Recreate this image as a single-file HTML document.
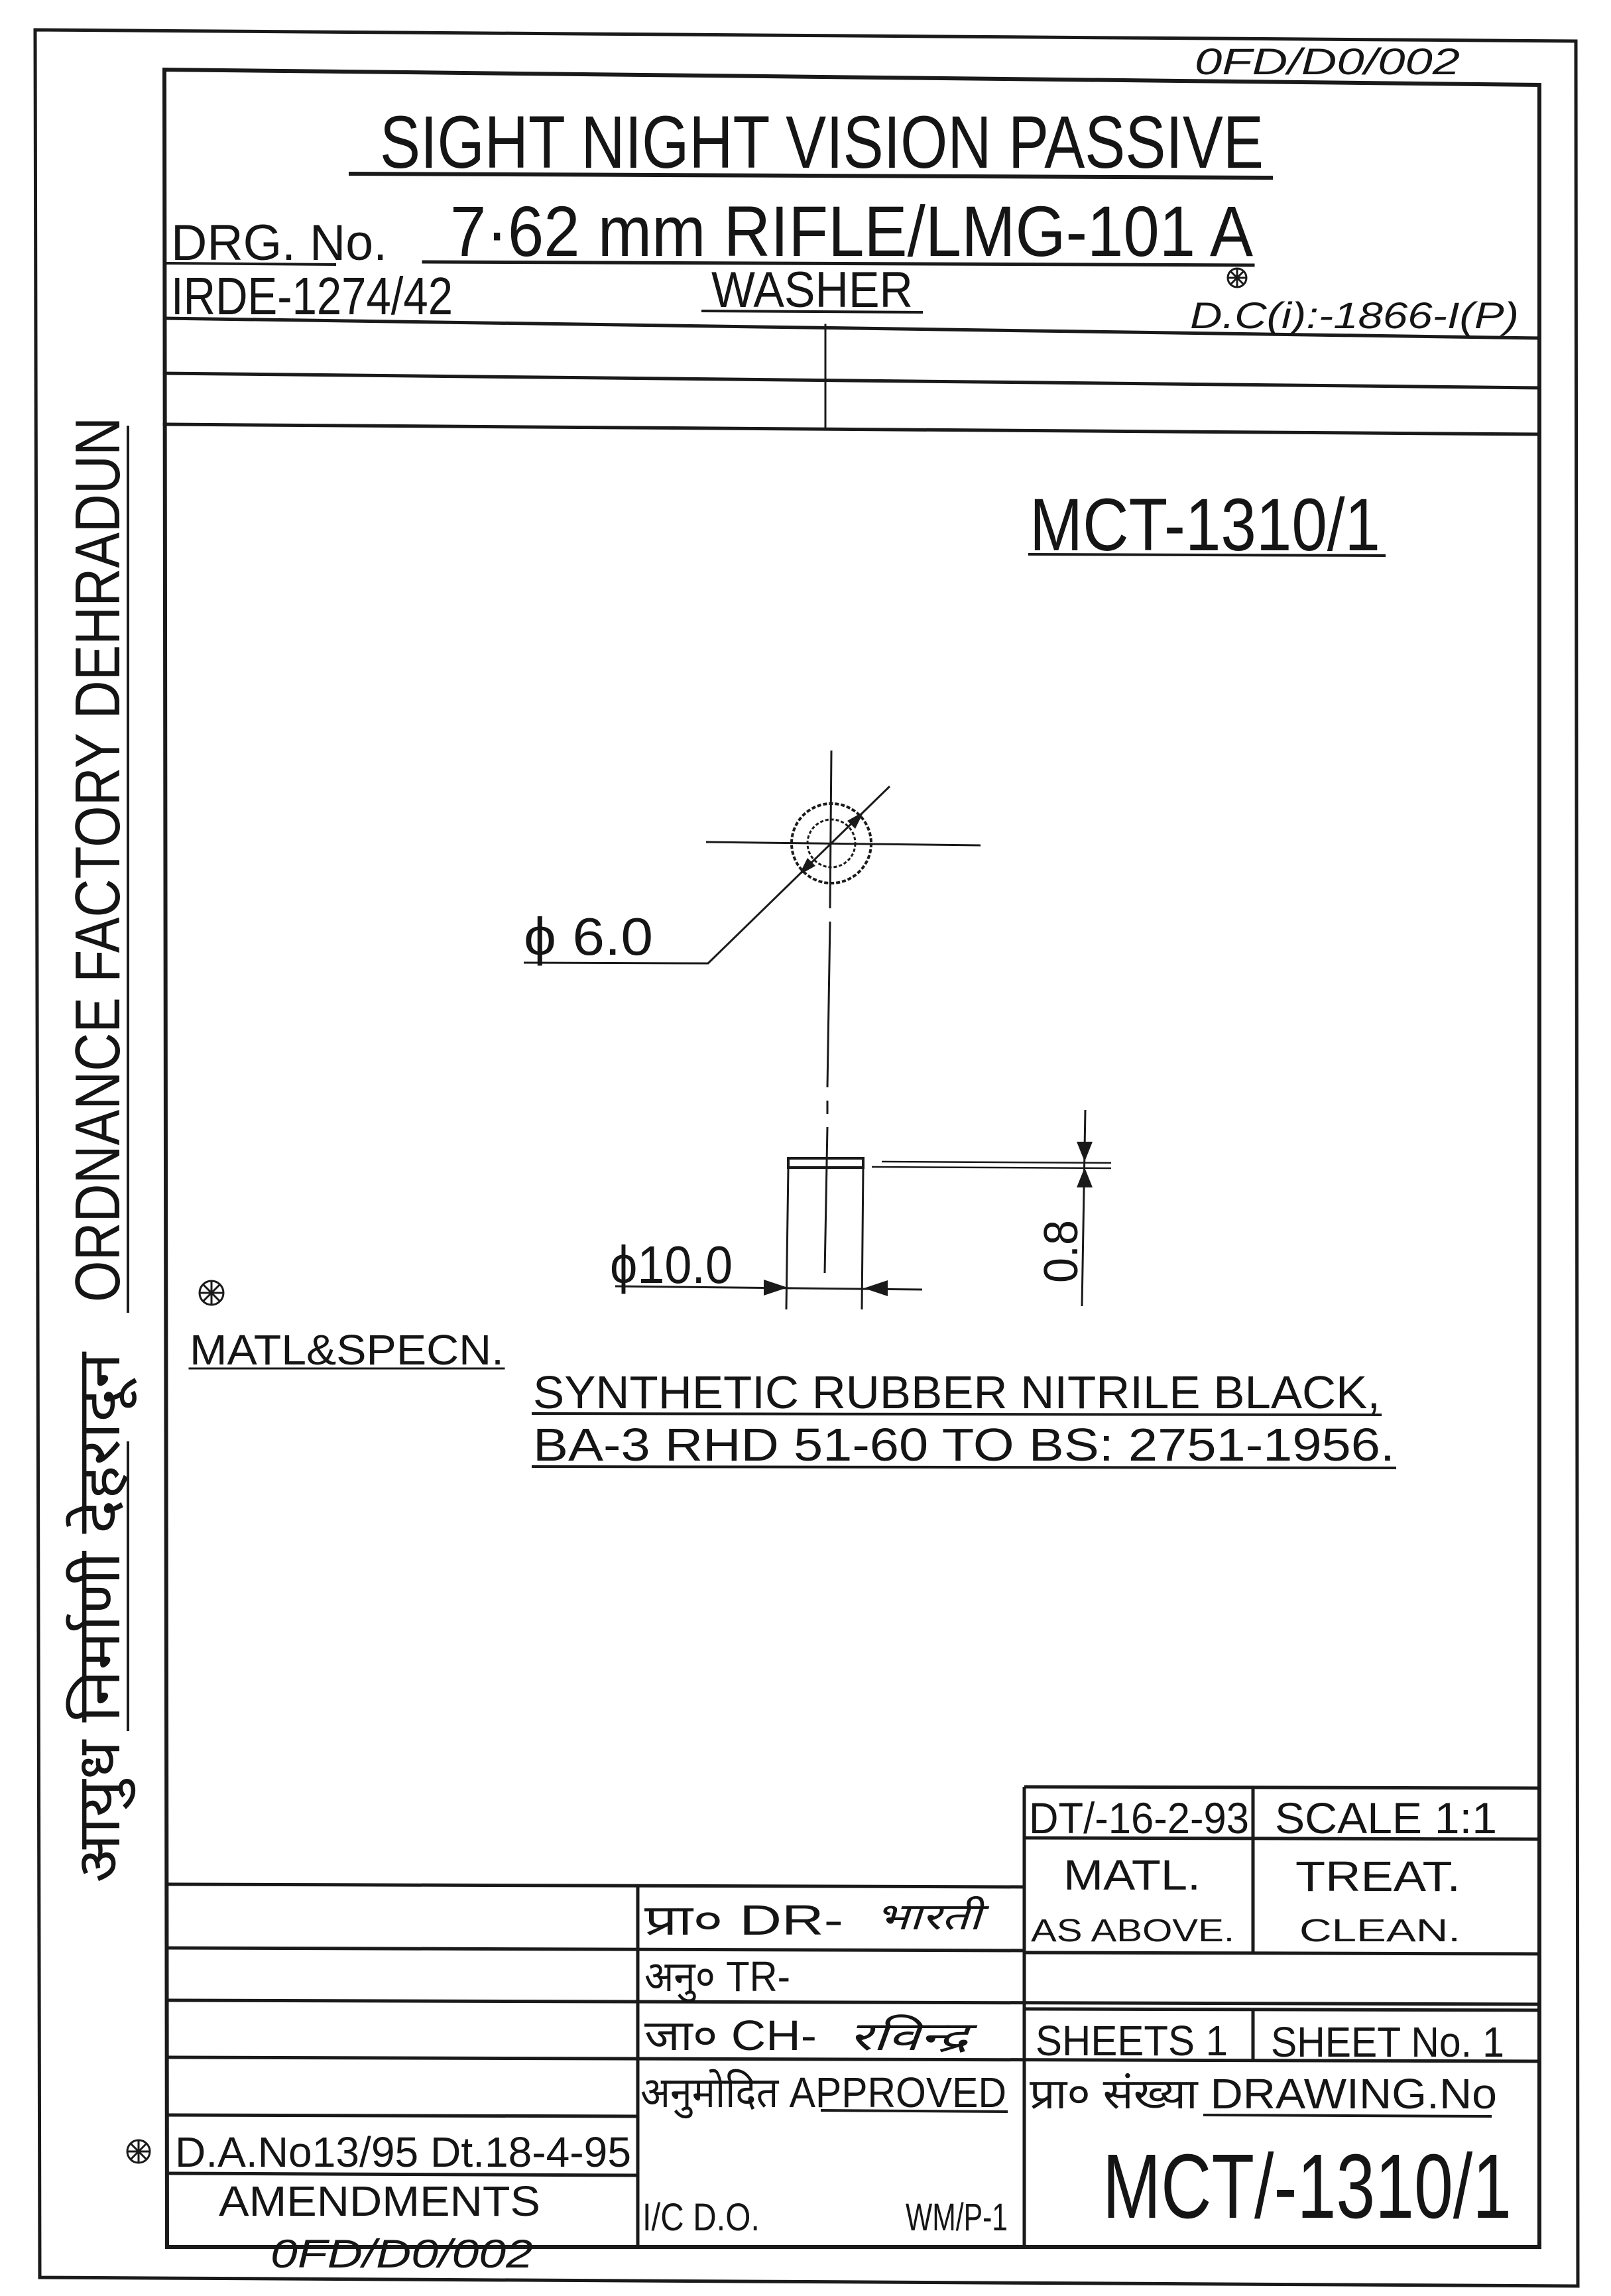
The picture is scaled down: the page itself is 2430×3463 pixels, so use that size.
<!DOCTYPE html>
<html><head><meta charset="utf-8"><style>
html,body{margin:0;padding:0;background:#fff;}
svg{display:block;}
text{font-family:"Liberation Sans","DejaVu Sans",sans-serif;fill:#151515;}
</style></head><body>
<svg width="2430" height="3463" viewBox="0 0 2430 3463" xmlns="http://www.w3.org/2000/svg">
<rect width="2430" height="3463" fill="#fff"/>
<g stroke="#1a1a1a" fill="none" stroke-linecap="square">
<path d="M53 45 L2377 62 L2380 3448 L60 3435 Z" stroke-width="5"/>
<path d="M248 105 L2322 128 L2322 3389 L252 3389 Z" stroke-width="6"/>
<line x1="248" y1="480" x2="2322" y2="510" stroke-width="5"/>
<line x1="248" y1="563" x2="2322" y2="585" stroke-width="5"/>
<line x1="248" y1="640" x2="2322" y2="655" stroke-width="5"/>
<line x1="1245" y1="490" x2="1245" y2="648" stroke-width="3"/>
<line x1="529" y1="262" x2="1917" y2="268" stroke-width="6"/>
<line x1="639" y1="395" x2="1890" y2="400" stroke-width="5"/>
<line x1="250" y1="397" x2="505" y2="399" stroke-width="4"/>
<line x1="1060" y1="469" x2="1390" y2="471" stroke-width="4"/>
<line x1="1553" y1="836" x2="2088" y2="838" stroke-width="4"/>
<line x1="286" y1="2064" x2="760" y2="2064" stroke-width="3"/>
<line x1="804" y1="2132" x2="2082" y2="2134" stroke-width="4"/>
<line x1="804" y1="2212" x2="2104" y2="2214" stroke-width="4"/>
<line x1="193" y1="644" x2="193" y2="1978" stroke-width="4"/>
<line x1="193" y1="2176" x2="193" y2="2609" stroke-width="4"/>
</g>
<g stroke="#1a1a1a" fill="none">
<line x1="1254" y1="1132" x2="1252" y2="1370" stroke-width="3"/>
<line x1="1252" y1="1390" x2="1248" y2="1640" stroke-width="3"/>
<line x1="1248" y1="1660" x2="1248" y2="1680" stroke-width="3"/>
<line x1="1248" y1="1700" x2="1244" y2="1920" stroke-width="3"/>
<line x1="1065" y1="1270" x2="1479" y2="1275" stroke-width="3"/>
<circle cx="1254" cy="1272" r="60" stroke-width="4" stroke-dasharray="6 3"/>
<circle cx="1254" cy="1272" r="36" stroke-width="3" stroke-dasharray="5 3"/>
<polyline points="790,1452 1068,1453 1342,1186" stroke-width="3"/>
<rect x="1189" y="1747" width="113" height="14" stroke-width="4"/>
<line x1="1189" y1="1761" x2="1186" y2="1975" stroke-width="3"/>
<line x1="1302" y1="1761" x2="1300" y2="1975" stroke-width="3"/>
<line x1="1330" y1="1752" x2="1676" y2="1754" stroke-width="2.5"/>
<line x1="1315" y1="1760" x2="1676" y2="1762" stroke-width="2.5"/>
<line x1="1637" y1="1674" x2="1632" y2="1970" stroke-width="3"/>
<line x1="928" y1="1940" x2="1391" y2="1945" stroke-width="3"/>
</g>
<g fill="#1a1a1a">
<polygon points="1303,1224 1290,1250 1278,1238"/>
<polygon points="1205,1320 1218,1294 1230,1306"/>
<polygon points="1636,1752 1624,1722 1648,1722"/>
<polygon points="1636,1761 1624,1791 1648,1791"/>
<polygon points="1188,1942 1152,1930 1152,1954"/>
<polygon points="1303,1943 1339,1931 1339,1955"/>
</g>
<g stroke="#1a1a1a" fill="none" stroke-width="5">
<line x1="1545" y1="2695" x2="2322" y2="2697"/>
<line x1="1545" y1="2772" x2="2322" y2="2774"/>
<line x1="252" y1="2842" x2="1545" y2="2846"/>
<line x1="252" y1="2938" x2="1545" y2="2942"/>
<line x1="1545" y1="2945" x2="2322" y2="2947"/>
<line x1="252" y1="3017" x2="2322" y2="3023"/>
<line x1="1545" y1="3030" x2="2322" y2="3032"/>
<line x1="252" y1="3103" x2="2322" y2="3109"/>
<line x1="252" y1="3190" x2="962" y2="3192"/>
<line x1="252" y1="3278" x2="962" y2="3281"/>
<line x1="962" y1="2842" x2="962" y2="3389"/>
<line x1="1545" y1="2695" x2="1545" y2="3389"/>
<line x1="1890" y1="2695" x2="1890" y2="2947"/>
<line x1="1890" y1="3030" x2="1890" y2="3109"/>
<line x1="1238" y1="3183" x2="1520" y2="3185" stroke-width="4"/>
<line x1="1815" y1="3190" x2="2250" y2="3192" stroke-width="4"/>
</g>
<g stroke="#1a1a1a" fill="none" stroke-width="3">
<circle cx="319" cy="1950" r="18"/><path d="M301 1950H337M319 1932V1968M306 1937L332 1963M332 1937L306 1963"/>
<circle cx="209" cy="3245" r="17"/><path d="M192 3245H226M209 3228V3262M197 3233L221 3257M221 3233L197 3257"/>
<circle cx="1866" cy="419" r="14"/><path d="M1852 419H1880M1866 405V433M1856 409L1876 429M1876 409L1856 429"/>
</g>
<text x="1802" y="112" font-size="56" font-style="italic" textLength="400" lengthAdjust="spacingAndGlyphs">0FD/D0/002</text>
<text x="573" y="253" font-size="112" textLength="1333" lengthAdjust="spacingAndGlyphs">SIGHT NIGHT VISION PASSIVE</text>
<text x="679" y="386" font-size="108" textLength="1211" lengthAdjust="spacingAndGlyphs">7·62 mm RIFLE/LMG-101 A</text>
<text x="258" y="392" font-size="76" textLength="326" lengthAdjust="spacingAndGlyphs">DRG. No.</text>
<text x="258" y="474" font-size="80" textLength="425" lengthAdjust="spacingAndGlyphs">IRDE-1274/42</text>
<text x="1073" y="463" font-size="76" textLength="304" lengthAdjust="spacingAndGlyphs">WASHER</text>
<text x="1795" y="495" font-size="56" font-style="italic" textLength="496" lengthAdjust="spacingAndGlyphs">D.C(i):-1866-I(P)</text>
<text x="1553" y="830" font-size="112" textLength="529" lengthAdjust="spacingAndGlyphs">MCT-1310/1</text>
<text x="790" y="1440" font-size="80" textLength="195" lengthAdjust="spacingAndGlyphs">ϕ 6.0</text>
<text x="920" y="1935" font-size="80" textLength="185" lengthAdjust="spacingAndGlyphs">ϕ10.0</text>
<text transform="translate(1625,1935) rotate(-90)" font-size="72" textLength="95" lengthAdjust="spacingAndGlyphs">0.8</text>
<text x="286" y="2058" font-size="64" textLength="474" lengthAdjust="spacingAndGlyphs">MATL&amp;SPECN.</text>
<text x="804" y="2124" font-size="70" textLength="1278" lengthAdjust="spacingAndGlyphs">SYNTHETIC RUBBER NITRILE BLACK,</text>
<text x="804" y="2203" font-size="70" textLength="1300" lengthAdjust="spacingAndGlyphs">BA-3 RHD 51-60 TO BS: 2751-1956.</text>
<text transform="translate(180,1964) rotate(-90)" font-size="96" textLength="1335" lengthAdjust="spacingAndGlyphs">ORDNANCE FACTORY DEHRADUN</text>
<text transform="translate(180,2840) rotate(-90)" font-size="90" textLength="800" lengthAdjust="spacingAndGlyphs">आयुध निर्माणी देहरादून</text>
<text x="1552" y="2765" font-size="66" textLength="332" lengthAdjust="spacingAndGlyphs">DT/-16-2-93</text>
<text x="1923" y="2765" font-size="66" textLength="335" lengthAdjust="spacingAndGlyphs">SCALE 1:1</text>
<text x="1604" y="2850" font-size="64" textLength="207" lengthAdjust="spacingAndGlyphs">MATL.</text>
<text x="1954" y="2852" font-size="64" textLength="249" lengthAdjust="spacingAndGlyphs">TREAT.</text>
<text x="1555" y="2928" font-size="48" textLength="307" lengthAdjust="spacingAndGlyphs">AS ABOVE.</text>
<text x="1960" y="2928" font-size="48" textLength="243" lengthAdjust="spacingAndGlyphs">CLEAN.</text>
<text x="972" y="2918" font-size="64" textLength="300" lengthAdjust="spacingAndGlyphs">प्रा० DR-</text>
<text x="1320" y="2910" font-size="56" font-style="italic" textLength="160" lengthAdjust="spacingAndGlyphs">भारती</text>
<text x="972" y="3003" font-size="64" textLength="220" lengthAdjust="spacingAndGlyphs">अनु० TR-</text>
<text x="972" y="3092" font-size="64" textLength="260" lengthAdjust="spacingAndGlyphs">जा० CH-</text>
<text x="1280" y="3092" font-size="60" font-style="italic" textLength="180" lengthAdjust="spacingAndGlyphs">रविन्द्र</text>
<text x="1562" y="3100" font-size="64" textLength="290" lengthAdjust="spacingAndGlyphs">SHEETS 1</text>
<text x="1917" y="3102" font-size="64" textLength="352" lengthAdjust="spacingAndGlyphs">SHEET No. 1</text>
<text x="966" y="3178" font-size="64" textLength="552" lengthAdjust="spacingAndGlyphs">अनुमोदित APPROVED</text>
<text x="1553" y="3180" font-size="64" textLength="705" lengthAdjust="spacingAndGlyphs">प्रा० संख्या DRAWING.No</text>
<text x="1663" y="3345" font-size="138" textLength="617" lengthAdjust="spacingAndGlyphs">MCT/-1310/1</text>
<text x="264" y="3268" font-size="64" textLength="688" lengthAdjust="spacingAndGlyphs">D.A.No13/95 Dt.18-4-95</text>
<text x="330" y="3342" font-size="64" textLength="485" lengthAdjust="spacingAndGlyphs">AMENDMENTS</text>
<text x="969" y="3364" font-size="58" textLength="177" lengthAdjust="spacingAndGlyphs">I/C D.O.</text>
<text x="1366" y="3364" font-size="58" textLength="154" lengthAdjust="spacingAndGlyphs">WM/P-1</text>
<text x="408" y="3420" font-size="60" font-style="italic" textLength="396" lengthAdjust="spacingAndGlyphs">0FD/D0/002</text>
</svg>
</body></html>
